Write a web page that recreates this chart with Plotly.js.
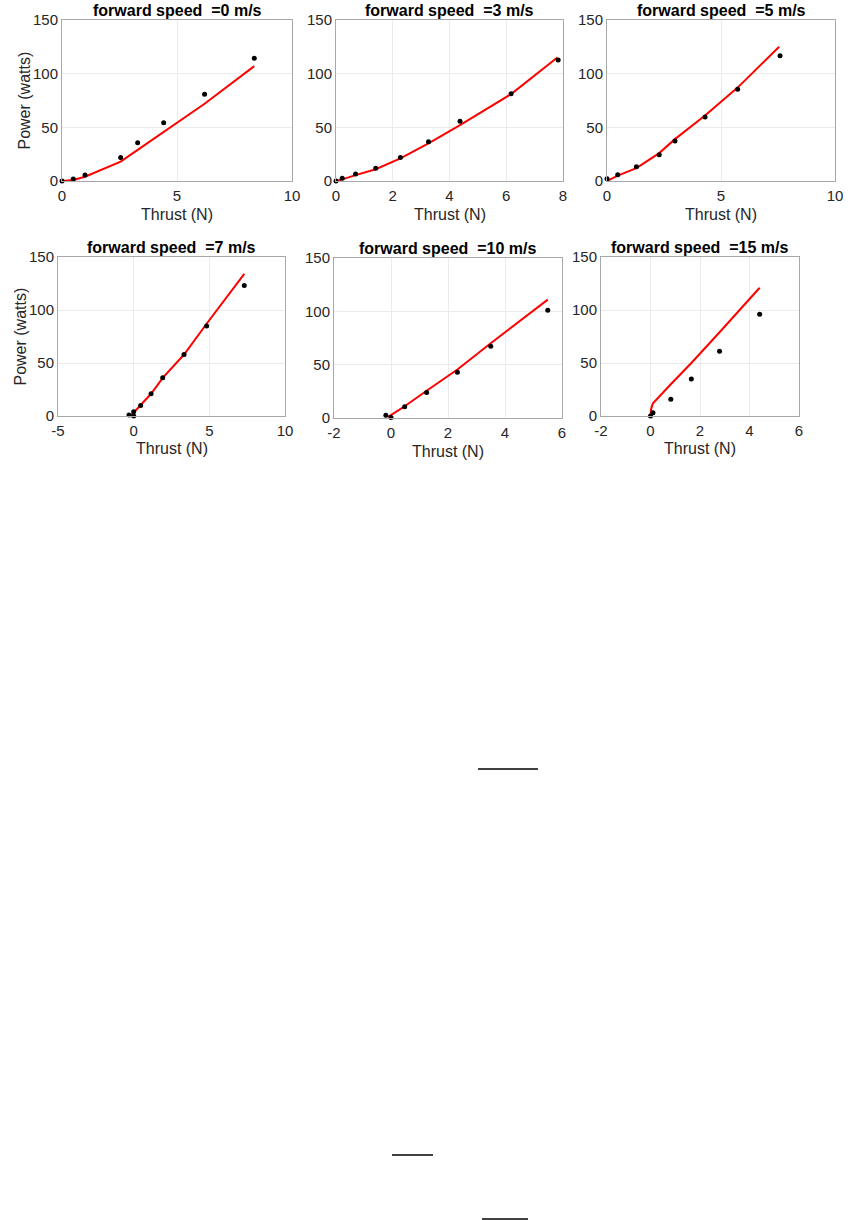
<!DOCTYPE html>
<html>
<head>
<meta charset="utf-8">
<script src="https://cdn.plot.ly/plotly-3.0.1.min.js"></script>
<style>html,body{margin:0;padding:0;background:#fff;}#chart{width:850px;height:1220px;}</style>
</head>
<body>
<div id="chart"></div>
<script>
// ---- data ----
var speeds = ["0", "3", "5", "7", "10", "15"];

var thrust0 = [0, 0.49, 1.0, 2.55, 3.29, 4.42, 6.2, 8.36];
var power0  = [0, 1.9, 5.6, 22, 35.7, 54.3, 80.8, 114.3];
var fitThrust0 = [0, 0.49, 1.0, 2.55, 3.29, 4.42, 6.2, 8.36];
var fitPower0  = [0, 1, 4, 18, 29, 46, 72, 107];

var thrust3 = [0, 0.22, 0.69, 1.40, 2.27, 3.26, 4.37, 6.17, 7.83];
var power3  = [0, 2.5, 6.5, 11.8, 22, 36.6, 55.6, 81.4, 112.8];
var fitThrust3 = [0, 0.22, 0.69, 1.40, 2.27, 3.26, 4.37, 6.17, 7.8];
var fitPower3  = [0, 1.5, 5.5, 11, 21, 35, 52, 81, 115];

var thrust5 = [0, 0.47, 1.29, 2.29, 2.98, 4.3, 5.73, 7.59];
var power5  = [2, 5.9, 13.3, 24.5, 37.3, 59.6, 85.4, 116.8];
var fitThrust5 = [0, 0.47, 1.29, 2.29, 2.98, 4.3, 5.73, 7.55];
var fitPower5  = [0, 5, 12, 26, 39, 61, 87, 125];

var thrust7 = [-0.31, 0, 0, 0.46, 1.15, 1.92, 3.33, 4.82, 7.31];
var power7  = [1, 4, 0, 10, 21, 36, 58, 85, 123];
var fitThrust7 = [-0.2, 0, 0.46, 1.15, 1.92, 3.33, 4.82, 7.31];
var fitPower7  = [0, 3, 10, 21, 36, 58, 87, 134];

var thrust10 = [-0.18, 0, 0.48, 1.25, 2.33, 3.5, 5.5];
var power10  = [2.5, 0.5, 10.6, 24, 43, 67.3, 101];
var fitThrust10 = [-0.1, 0.48, 1.25, 2.33, 3.5, 5.5];
var fitPower10  = [1, 11, 25.5, 45.5, 70, 111];

var thrust15 = [0, 0.1, 0.82, 1.65, 2.79, 4.41];
var power15  = [0, 3, 15.7, 35, 61, 96];
var fitThrust15 = [0, 0.02, 0.07, 0.1, 0.82, 1.65, 2.79, 4.41];
var fitPower15  = [0, 6, 10, 12, 30, 50, 79, 121];

var xRanges = [[0, 10], [0, 8], [0, 10], [-5, 10], [-2, 6], [-2, 6]];
var xTickVals = [[0, 5, 10], [0, 2, 4, 6, 8], [0, 5, 10], [-5, 0, 5, 10], [-2, 0, 2, 4, 6], [-2, 0, 2, 4, 6]];
var xTickText = [["0", "5", "10"], ["0", "2", "4", "6", "8"], ["0", "5", "10"], ["-5", "0", "5", "10"], ["-2", "0", "2", "4", "6"], ["-2", "0", "2", "4", "6"]];
var yRange = [0, 150];
var yTickVals = [0, 50, 100, 150];
var yTickText = ["0", "50", "100", "150"];

// ---- layout geometry (pixels) ----
var W = 850, H = 1220;
var boxes = [
  {l: 62,  r: 292, t: 20,  b: 181},
  {l: 336, r: 563, t: 20,  b: 181},
  {l: 607, r: 835, t: 20,  b: 181},
  {l: 58,  r: 285, t: 257, b: 416},
  {l: 334, r: 562, t: 258, b: 418},
  {l: 601, r: 799, t: 257, b: 416}
];
function px(x) { return x / W; }
function py(y) { return 1 - y / H; }

var pts = [[thrust0, power0], [thrust3, power3], [thrust5, power5], [thrust7, power7], [thrust10, power10], [thrust15, power15]];
var fits = [[fitThrust0, fitPower0], [fitThrust3, fitPower3], [fitThrust5, fitPower5], [fitThrust7, fitPower7], [fitThrust10, fitPower10], [fitThrust15, fitPower15]];

var FONT = "Liberation Sans, Arial, Helvetica, sans-serif";
var data = [];
var layout = {
  width: W, height: H,
  margin: {l: 0, r: 0, t: 0, b: 0},
  paper_bgcolor: "#ffffff",
  plot_bgcolor: "#ffffff",
  showlegend: false,
  font: {family: FONT, size: 15, color: "#262626"},
  annotations: [],
  shapes: []
};

for (var i = 0; i < 6; i++) {
  var n = i === 0 ? "" : String(i + 1);
  var b = boxes[i];
  data.push({
    x: fits[i][0], y: fits[i][1], type: "scatter", mode: "lines",
    line: {color: "#ff0000", width: 2}, xaxis: "x" + n, yaxis: "y" + n, cliponaxis: false
  });
  data.push({
    x: pts[i][0], y: pts[i][1], type: "scatter", mode: "markers",
    marker: {color: "#000000", size: 5}, xaxis: "x" + n, yaxis: "y" + n, cliponaxis: false
  });
  var common = {
    showline: true, mirror: true, linecolor: "#a8a8a8", linewidth: 1,
    showgrid: true, gridcolor: "#ebebeb", gridwidth: 1, zeroline: false,
    ticks: "", tickfont: {family: FONT, size: 15, color: "#262626"}, fixedrange: true,
    tickmode: "array"
  };
  layout["xaxis" + n] = Object.assign({}, common, {
    domain: [px(b.l), px(b.r)], range: xRanges[i],
    tickvals: xTickVals[i], ticktext: xTickText[i],
    anchor: "y" + n, ticklabelstandoff: 1
  });
  layout["yaxis" + n] = Object.assign({}, common, {
    domain: [py(b.b), py(b.t)], range: yRange,
    tickvals: yTickVals, ticktext: yTickText,
    anchor: "x" + n
  });
  layout.annotations.push({
    text: "<b>forward speed \u00a0=" + speeds[i] + " m/s</b>",
    xref: "paper", yref: "paper", x: px((b.l + b.r) / 2), y: py(b.t - 10),
    xanchor: "center", yanchor: "middle", showarrow: false,
    font: {family: FONT, size: 16, color: "#000000"}
  });
  layout.annotations.push({
    text: "Thrust (N)",
    xref: "paper", yref: "paper", x: px((b.l + b.r) / 2), y: py(b.b + 33),
    xanchor: "center", yanchor: "middle", showarrow: false,
    font: {family: FONT, size: 16, color: "#262626"}
  });
  if (i === 0 || i === 3) {
    layout.annotations.push({
      text: "Power (watts)", textangle: -90,
      xref: "paper", yref: "paper", x: px(b.l - 38), y: py((b.t + b.b) / 2),
      xanchor: "center", yanchor: "middle", showarrow: false,
      font: {family: FONT, size: 16, color: "#262626"}
    });
  }
}

// stray underline strokes in the page
var strokes = [[478, 538, 769], [392, 433, 1155], [482, 528, 1219]];
strokes.forEach(function (s) {
  layout.shapes.push({type: "line", xref: "paper", yref: "paper",
    x0: px(s[0]), x1: px(s[1]), y0: py(s[2]), y1: py(s[2]),
    line: {color: "#000000", width: 1.5}});
});

Plotly.newPlot("chart", data, layout, {staticPlot: true, displayModeBar: false});
</script>
</body>
</html>
